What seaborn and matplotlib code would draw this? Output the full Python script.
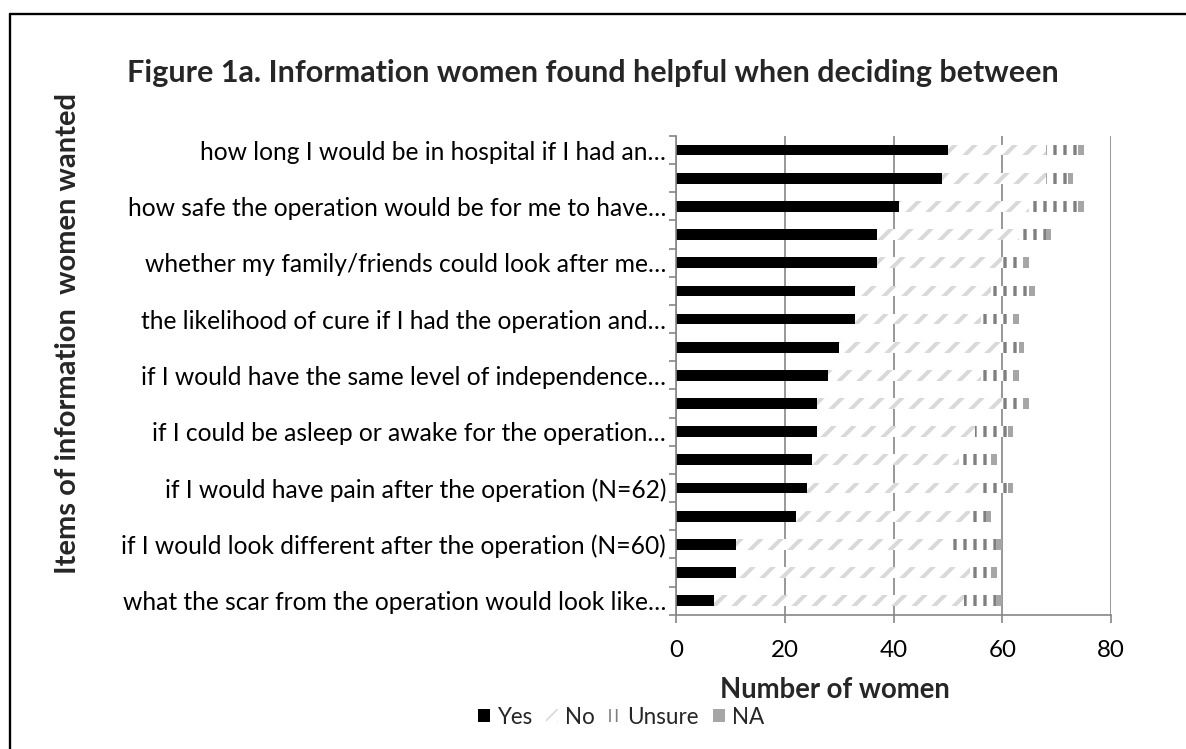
"""Stacked bar chart: information women found helpful when deciding between treatments"""

import numpy as np
import pandas as pd
import matplotlib
matplotlib.use('Agg')
import matplotlib.pyplot as plt
import seaborn as sns
from matplotlib.patches import Patch
from matplotlib.lines import Line2D

# Row labels (Excel only printed every second one)
item_labels = [
    'how long I would be in hospital if I had an…', '',
    'how safe the operation would be for me to have…', '',
    'whether my family/friends could look after me…', '',
    'the likelihood of cure if I had the operation and…', '',
    'if I would have the same level of independence…', '',
    'if I could be asleep or awake for the operation…', '',
    'if I would have pain after the operation (N=62)', '',
    'if I would look different after the operation (N=60)', '',
    'what the scar from the operation would look like…',
]
yes = [50, 49, 41, 37, 37, 33, 33, 30, 28, 26, 26, 25, 24, 22, 11, 11, 7]
no = [18, 19, 24, 26, 23, 25, 23, 30, 28, 34, 29, 27, 32, 32, 39, 43, 46]
unsure = [6, 4, 9, 5, 4, 7, 6, 3, 6, 4, 6, 6, 5, 3, 9, 4, 6]
na = [1, 1, 1, 1, 1, 1, 1, 1, 1, 1, 1, 1, 1, 1, 1, 1, 1]
x_ticks = [0, 20, 40, 60, 80]

GRID = '#868686'
NO_COL = '#d9d9d9'
UNSURE_COL = '#7f7f7f'
NA_COL = '#a6a6a6'

sns.set_theme(style='white')
plt.rcParams['font.family'] = ['Lato', 'DejaVu Sans']

df = pd.DataFrame({
    'item': [f'Q{i + 1}' for i in range(len(yes))],
    'Yes': yes, 'No': no, 'Unsure': unsure, 'NA': na,
})
df['cum_yes'] = df['Yes']
df['cum_no'] = df['cum_yes'] + df['No']
df['cum_unsure'] = df['cum_no'] + df['Unsure']
df['cum_na'] = df['cum_unsure'] + df['NA']
order = list(df['item'])

fig = plt.figure(figsize=(1186 / 120, 749 / 120), dpi=120)
ax = fig.add_axes([0.570, 0.1793, 0.3668, 0.6391])


def draw_layer(col, face, hatch=None, hatch_col=None, hatch_lw=1.0):
    # stacked bars drawn as overlapping cumulative totals
    kw = dict(data=df, x=col, y='item', order=order, color=face,
              width=0.38, saturation=1, ax=ax, orient='h', errorbar=None)
    if hatch:
        kw.update(hatch=hatch, edgecolor=hatch_col, linewidth=0)
    else:
        kw.update(linewidth=0)
    with plt.rc_context({'hatch.linewidth': hatch_lw}):
        sns.barplot(**kw)
    if hatch:
        for bar in ax.containers[-1]:
            if hasattr(bar, 'set_hatch_linewidth'):
                bar.set_hatch_linewidth(hatch_lw)


draw_layer('cum_na', NA_COL)
draw_layer('cum_unsure', 'white', '||', UNSURE_COL, 2.0)
draw_layer('cum_no', 'white', '//', NO_COL, 2.4)
draw_layer('cum_yes', 'black')

# axes styling (Excel look)
ax.set_xlim(0, 80)
ax.set_xticks(x_ticks)
ax.set_yticks(range(len(item_labels)))
ax.set_yticklabels(item_labels, fontsize=14.8)
ax.set_yticks(np.arange(-0.5, len(item_labels), 1), minor=True)
ax.set_xlabel('')
ax.set_ylabel('')
ax.set_axisbelow(True)
ax.grid(axis='x', color=GRID, linewidth=1.0)
ax.grid(axis='y', visible=False)
for side in ['top', 'right']:
    ax.spines[side].set_visible(False)
for side in ['left', 'bottom']:
    ax.spines[side].set_color(GRID)
    ax.spines[side].set_linewidth(1.0)
ax.tick_params(axis='x', bottom=True, length=5, width=1.0, color=GRID,
               pad=10, labelsize=14.5, labelcolor='black')
ax.tick_params(axis='y', which='major', left=False, length=0, pad=6,
               labelcolor='black')
ax.tick_params(axis='y', which='minor', left=True, length=4, width=1.0,
               color=GRID, direction='out')

# titles
fig.text(0.5, 1 - 73 / 749,
         'Figure 1a. Information women found helpful when deciding between',
         ha='center', va='center', fontsize=18.3, fontweight='bold')
fig.text(68 / 1186, 1 - 333 / 749, 'Items of information  women wanted',
         rotation=90, ha='center', va='center', fontsize=17.5, fontweight='bold')
fig.text(835 / 1186, 1 - 690 / 749, 'Number of women',
         ha='center', va='center', fontsize=16.5, fontweight='bold')

# legend
handles = [
    Patch(facecolor='black', linewidth=0, label='Yes'),
    Patch(facecolor='white', hatch='///', edgecolor=NO_COL, linewidth=0, label='No'),
    Patch(facecolor='white', hatch='|||', edgecolor=UNSURE_COL, linewidth=0, label='Unsure'),
    Patch(facecolor=NA_COL, linewidth=0, label='NA'),
]
fig.legend(handles=handles, loc='center', bbox_to_anchor=(621 / 1186, 1 - 717 / 749),
           ncol=4, frameon=False, fontsize=13.5, handlelength=0.55,
           handleheight=0.5, handletextpad=0.3, columnspacing=0.6)

# frame around the chart (cut off at right and bottom)
x0, y0 = 10 / 1186, 1 - 14 / 749
fig.add_artist(Line2D([x0, x0], [-0.01, y0], transform=fig.transFigure,
                      color='black', linewidth=1.4))
fig.add_artist(Line2D([x0, 1.01], [y0, y0], transform=fig.transFigure,
                      color='black', linewidth=1.4))

fig.savefig('out.png', dpi=120)
